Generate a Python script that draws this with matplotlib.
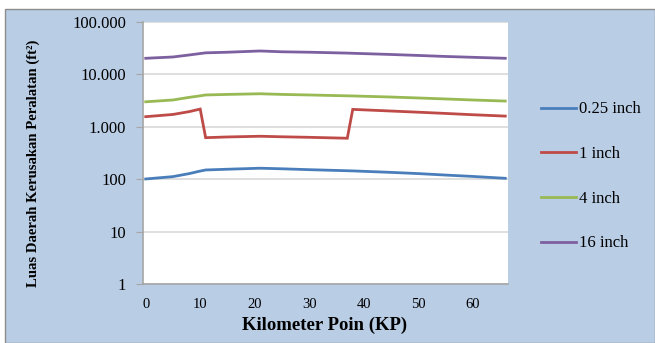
import matplotlib
matplotlib.use("Agg")
import matplotlib.pyplot as plt
from matplotlib.patches import Rectangle
from matplotlib.ticker import FixedLocator, FixedFormatter, NullLocator

kp = [0, 5, 8, 10, 11, 15, 21, 25, 30, 37, 38, 45, 50, 55, 60, 66]
s_025 = [101, 112, 128, 143, 150, 155, 162, 158, 152, 145, 144, 135, 128, 120, 113, 104]
s_1 = [1560, 1720, 1950, 2180, 620, 640, 660, 645, 630, 605, 2150, 2000, 1900, 1800, 1700, 1600]
s_4 = [3000, 3250, 3650, 3900, 4050, 4150, 4270, 4150, 4050, 3900, 3880, 3700, 3550, 3400, 3250, 3100]
s_16 = [20300, 21500, 23500, 25000, 25800, 26500, 28000, 27000, 26500, 25500, 25300, 24000, 23000, 22000, 21200, 20300]
labels = ["0.25 inch", "1 inch", "4 inch", "16 inch"]
colors = ["#4A7EBB", "#BE4B48", "#98B954", "#7D60A0"]
y_ticks = [1, 10, 100, 1000, 10000, 100000]
y_ticklabels = ["1", "10", "100", "1.000", "10.000", "100.000"]
x_ticks = [0, 10, 20, 30, 40, 50, 60]

W, H = 655, 343
fig = plt.figure(figsize=(W / 100, H / 100), dpi=100, facecolor="white")
bg = Rectangle((5 / W, 0), 1 - 5 / W, (H - 9) / H, transform=fig.transFigure,
               facecolor="#B9CDE5", edgecolor="#8C8C8C", linewidth=1.0, zorder=-10)
fig.add_artist(bg)

ax = fig.add_axes([143 / W, (H - 284) / H, (508 - 143) / W, (284 - 22) / H])
ax.set_zorder(1)
ax.set_facecolor("white")
for s, c, lab in zip([s_025, s_1, s_4, s_16], colors, labels):
    ax.plot(kp, s, color=c, lw=2.0, label=lab, solid_joinstyle="miter")

ax.set_yscale("log")
ax.set_ylim(1, 100000)
ax.set_xlim(-0.5, 66.5)
ax.yaxis.set_major_locator(FixedLocator(y_ticks))
ax.yaxis.set_major_formatter(FixedFormatter(y_ticklabels))
ax.yaxis.set_minor_locator(NullLocator())
ax.set_xticks(x_ticks)
ax.grid(axis="y", color="#D9D9D9", lw=1.2)
ax.set_axisbelow(True)
for sp in ["top", "right"]:
    ax.spines[sp].set_visible(False)
for sp in ["left", "bottom"]:
    ax.spines[sp].set_color("#A6A6A6")
    ax.spines[sp].set_linewidth(1.2)
ax.tick_params(axis="y", length=5, color="#A6A6A6", pad=7, labelsize=12)
ax.tick_params(axis="x", length=0, pad=10, labelsize=10.5)
for t in ax.get_yticklabels() + ax.get_xticklabels():
    t.set_fontfamily("Liberation Serif")

fig.text(325 / W, (H - 325) / H, "Kilometer Poin (KP)", ha="center", va="center",
         fontsize=13.5, fontweight="bold", family="Liberation Serif")
fig.text(33 / W, (H - 163) / H, "Luas Daerah Kerusakan Peralatan (ft²)", ha="center", va="center",
         rotation=90, fontsize=10.6, fontweight="bold", family="Liberation Serif")

leg = ax.legend(loc="upper left", bbox_to_anchor=(533 / W, (H - 93) / H),
                bbox_transform=fig.transFigure, frameon=False,
                prop={"family": "Liberation Serif", "size": 12},
                handlelength=2.1, handletextpad=0.15, labelspacing=1.72, borderpad=0)

fig.savefig("out.png", dpi=100, facecolor=fig.get_facecolor())
